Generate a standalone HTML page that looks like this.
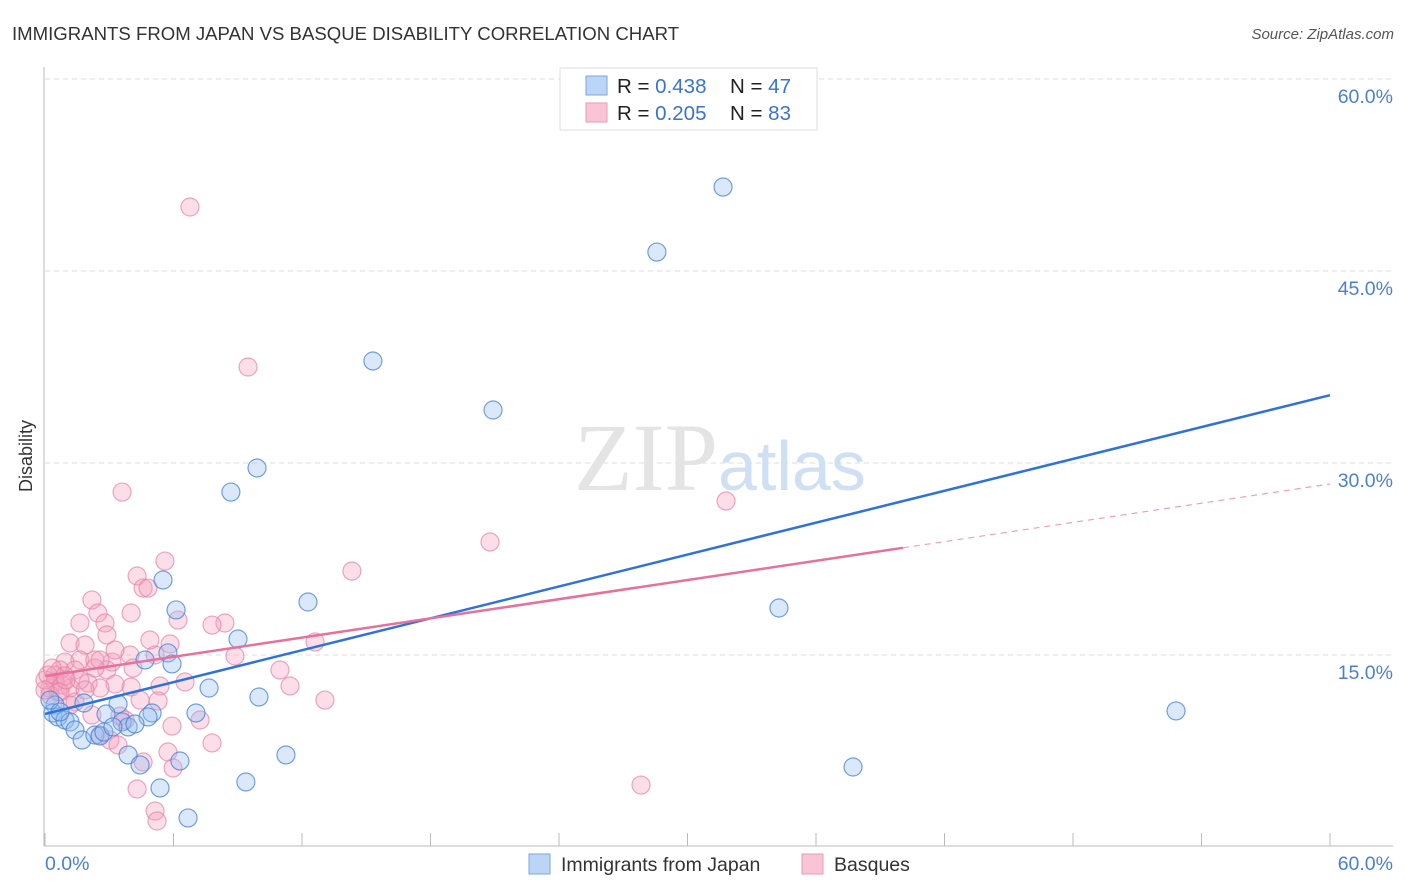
<!DOCTYPE html>
<html><head><meta charset="utf-8"><style>
body{margin:0;background:#fff;font-family:"Liberation Sans",sans-serif;}
svg{display:block}
</style></head><body>
<svg id="chart" width="1406" height="892">
<text x="12" y="40" font-size="18.6" fill="#333">IMMIGRANTS FROM JAPAN VS BASQUE DISABILITY CORRELATION CHART</text>
<text x="1394" y="39" font-size="15" fill="#555" font-style="italic" text-anchor="end">Source: ZipAtlas.com</text>
<text x="32" y="456" font-size="18" fill="#333" text-anchor="middle" transform="rotate(-90 32 456)">Disability</text>
<g id="grid"></g>
<text x="718" y="490" font-size="96" font-family="Liberation Serif,serif" fill="#e4e4e4" text-anchor="end">ZIP</text>
<text x="718" y="490" font-size="70" fill="#cfe0f4">atlas</text>
<g id="marks"></g>
<g id="lines"></g>
<g>
<rect x="560" y="68" width="257" height="62" fill="#fff" stroke="#ddd"/>
<rect x="586" y="76" width="21" height="19" fill="#bcd4f6" stroke="#7ea6e0"/>
<rect x="586" y="103" width="21" height="19" fill="#f9c5d6" stroke="#ec9ab6"/>
<text x="617" y="93" font-size="20.5" fill="#222">R = <tspan fill="#3a72d4">0.438</tspan><tspan x="730">N = </tspan><tspan fill="#3a72d4">47</tspan></text>
<text x="617" y="120" font-size="20.5" fill="#222">R = <tspan fill="#3a72d4">0.205</tspan><tspan x="730">N = </tspan><tspan fill="#3a72d4">83</tspan></text>
</g>
<g>
<rect x="529" y="854" width="21" height="20" fill="#bcd4f6" stroke="#7ea6e0"/>
<text x="561" y="871" font-size="19.5" fill="#333">Immigrants from Japan</text>
<rect x="802" y="854" width="21" height="20" fill="#f9c5d6" stroke="#ec9ab6"/>
<text x="834" y="871" font-size="19.5" fill="#333">Basques</text>
</g>
</svg>
<script>
const yTicks=[15,30,45,60];
const yTickLabels=["15.0%","30.0%","45.0%","60.0%"];
const xEndLabels=["0.0%","60.0%"];
const japanX=[31.66,28.57,15.31,20.92,9.90,8.68,5.51,12.28,6.12,34.27,9.01,5.74,4.67,5.93,7.66,9.99,52.81,7.05,1.82,3.41,2.85,5.00,4.81,0.47,0.37,0.61,0.93,1.17,1.40,1.73,2.33,2.57,2.75,3.60,3.88,4.20,3.17,3.88,4.44,6.30,11.25,37.73,9.38,5.37,6.68,0.23,0.70];
const japanY=[51.56,46.48,37.97,34.14,29.61,27.73,20.86,19.14,18.52,18.67,16.25,15.16,14.61,14.30,12.42,11.72,10.63,10.47,11.25,11.17,10.39,10.47,10.16,11.09,10.47,10.16,9.92,9.77,9.14,8.36,8.75,8.67,8.98,9.77,9.38,9.61,9.38,7.19,6.41,6.72,7.19,6.25,5.08,4.61,2.27,11.48,10.55];
const basqueX=[6.77,9.48,3.60,31.80,20.78,5.60,14.33,4.30,4.58,4.81,2.19,4.02,2.47,6.21,1.63,2.80,8.40,7.80,2.89,12.61,1.17,5.84,1.87,5.14,3.97,3.13,8.87,1.63,2.33,0.93,10.97,4.11,0.70,1.40,2.89,0.47,6.54,11.44,5.37,4.02,3.27,2.01,2.57,0.79,1.17,0.23,0.47,0.23,0.61,0,0.14,13.07,5.28,1.40,3.50,3.74,5.93,3.03,7.80,2.57,2.19,5.74,4.58,5.98,4.30,27.83,5.14,5.23,3.41,1.17,0.70,0.33,0.93,0,1.63,2.33,3.27,4.44,2.57,1.87,0.98,4.90,7.24];
const basqueY=[50.0,37.5,27.73,27.03,23.83,22.34,21.56,21.17,20.23,20.23,19.30,18.28,18.28,17.73,17.50,17.50,17.50,17.34,16.56,16.02,15.94,15.86,15.78,15.0,15.0,14.45,14.92,14.61,14.61,14.45,13.83,13.98,13.83,13.83,13.83,13.44,12.89,12.58,12.58,12.5,12.73,12.81,12.42,12.66,12.42,12.42,12.89,11.88,12.11,13.05,13.44,11.48,11.41,11.33,10.23,9.92,9.45,8.36,8.13,8.75,10.31,7.42,6.64,6.17,4.53,4.84,2.81,2.03,7.97,11.09,12.11,13.98,13.36,12.27,13.05,13.98,15.39,11.48,14.61,12.27,13.05,16.17,9.92];
const japanTrend=[10.39,35.3];
const basqueTrend=[13.36,28.36];
const basqueSolidEnd=40.06;

const NS="http://www.w3.org/2000/svg";
const X0=45,X1=1330,Y0=847,Y1=79;
const sx=v=>X0+(X1-X0)*v/60;
const sy=v=>Y0-(Y0-Y1)*v/60;
function mk(tag,attrs,parent){const e=document.createElementNS(NS,tag);for(const k in attrs)e.setAttribute(k,attrs[k]);parent.appendChild(e);return e;}
const grid=document.getElementById('grid');
yTicks.forEach((t,i)=>{
  const l=mk('line',{x1:45,x2:1393,y1:sy(t),y2:sy(t),stroke:'#ddd','stroke-dasharray':'5,4'},grid);
  
  
  const tx=mk('text',{x:1393,y:sy(t)+24,'font-size':19.5,fill:'#4a7fd6','text-anchor':'end'},grid);
  tx.textContent=yTickLabels[i];
  
  
});
const ax=mk('line',{x1:44,x2:44,y1:67,y2:846,stroke:'#bbb'},grid);


const bx=mk('line',{x1:44,x2:1393,y1:846,y2:846,stroke:'#bbb'},grid);


for(let i=0;i<=10;i++){const v=i*6;const t=mk('line',{x1:sx(v),x2:sx(v),y1:833,y2:846,stroke:'#bbb'},grid);

}
const xl=mk('text',{x:45,y:870,'font-size':19.5,fill:'#4a7fd6'},grid);xl.textContent=xEndLabels[0];


const xr=mk('text',{x:1393,y:870,'font-size':19.5,fill:'#4a7fd6','text-anchor':'end'},grid);xr.textContent=xEndLabels[1];



const marks=document.getElementById('marks');
basqueX.forEach((x,i)=>{const c=mk('circle',{cx:sx(x),cy:sy(basqueY[i]),r:9,fill:'rgba(244,160,190,0.35)',stroke:'rgba(232,130,165,0.7)','stroke-width':1.2},marks);

});
japanX.forEach((x,i)=>{const c=mk('circle',{cx:sx(x),cy:sy(japanY[i]),r:9,fill:'rgba(150,188,240,0.35)',stroke:'rgba(70,130,215,0.75)','stroke-width':1.2},marks);

});

const lines=document.getElementById('lines');
const bf=v=>basqueTrend[0]+(basqueTrend[1]-basqueTrend[0])*v/60;
const l1=mk('line',{x1:sx(0),y1:sy(japanTrend[0]),x2:sx(60),y2:sy(japanTrend[1]),stroke:'#2f73d8','stroke-width':2.5},lines);


const l2=mk('line',{x1:sx(0),y1:sy(bf(0)),x2:sx(basqueSolidEnd),y2:sy(bf(basqueSolidEnd)),stroke:'#e8709a','stroke-width':2.5},lines);


const l3=mk('line',{x1:sx(basqueSolidEnd),y1:sy(bf(basqueSolidEnd)),x2:sx(60),y2:sy(bf(60)),stroke:'#eea0b8','stroke-width':1.2,'stroke-dasharray':'6,5'},lines);


</script>
</body></html>
